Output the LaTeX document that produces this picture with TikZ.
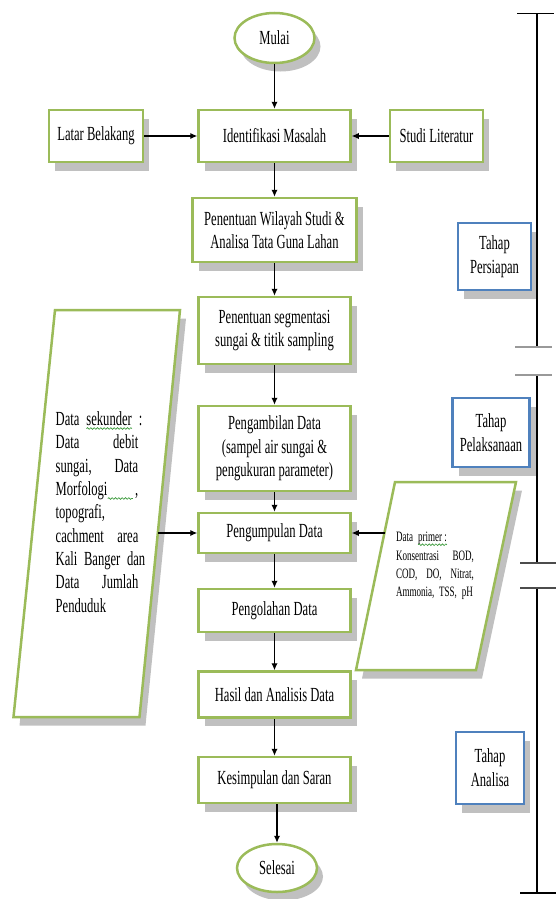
\documentclass[tikz,border=0pt]{standalone}
\usepackage{fontspec}
\setmainfont{Liberation Serif}[FakeStretch=0.63]
\usetikzlibrary{shapes.geometric, shadows, arrows.meta, decorations.pathmorphing}

\definecolor{boxgreen}{HTML}{9BBB59}
\definecolor{boxblue}{HTML}{4F81BD}
\definecolor{shadowgray}{HTML}{C0C0C0}
\definecolor{spellgreen}{HTML}{3A9A3A}

% wavy spell-check underline
\newcommand\squig[1]{\tikz[baseline=(w.base)]{\node[inner sep=0pt, outer sep=0pt] (w) {#1};
  \draw[spellgreen, line width=0.4pt, decorate, decoration={snake, amplitude=0.5pt, segment length=2pt}]
    ([yshift=-1.8pt]w.base west) -- ([yshift=-1.8pt]w.base east);}}

\tikzset{
  boxshadow/.style={drop shadow={shadow xshift=3.6pt, shadow yshift=-5.1pt, fill=shadowgray, opacity=1}},
  flowbox/.style={rectangle, draw=boxgreen, line width=1.5pt, fill=white, boxshadow,
    align=center, inner sep=1pt, font=\fontsize{12}{14}\selectfont},
  endbox/.style={ellipse, draw=boxgreen, line width=1.5pt, fill=white, boxshadow,
    inner sep=1pt, font=\fontsize{12}{14}\selectfont},
  stagebox/.style={rectangle, draw=boxblue, line width=1.5pt, fill=white, boxshadow,
    align=center, inner sep=1pt, font=\fontsize{12}{14.4}\selectfont},
  datashape/.style={draw=boxgreen, line width=1.5pt, fill=white, boxshadow},
  arr/.style={-{Latex[length=4.2pt,width=3.8pt]}, line width=0.7pt, black},
  barline/.style={line width=0.7pt, black},
  tickgray/.style={line width=1.6pt, gray!80},
  tickdark/.style={line width=1.2pt, black!70}
}

\begin{document}
\begin{tikzpicture}[x=0.6pt, y=-0.6pt]
  \useasboundingbox (0,0) rectangle (556,899);

  % Draw the data shapes
  \draw[datashape] (55,310) -- (180,310) -- (139.5,717) -- (13.5,717) -- cycle;
  \draw[datashape] (395,482) -- (516,482) -- (476,670) -- (356,670) -- cycle;
  \coordinate (sekR) at (158,533);
  \coordinate (primL) at (384.5,533);

  \node[align=left, text width=49.6pt, inner sep=0pt, font=\fontsize{12}{14}\selectfont] (sek) at (97,512) {%
    \mbox{Data \squig{sekunder} :}\\
    Data\hfill debit\\
    sungai,\hfill Data\\
    Morfologi\squig{\hspace*{15pt}}\hfill,\\
    topografi,\\
    cachment\hfill area\\
    \mbox{Kali Banger dan}\\
    Data\hfill Jumlah\\
    Penduduk};
  \node[align=left, text width=46.8pt, inner sep=0pt, font=\fontsize{8.6}{11}\selectfont] (prim) at (435,566) {%
    \mbox{Data \squig{primer :}}\\
    Konsentrasi\hfill BOD,\\
    COD,\hfill DO,\hfill Nitrat,\\
    \mbox{Ammonia, TSS, pH}};

  % Draw the nodes
  \node[endbox, minimum width=48pt, minimum height=30pt] (mulai) at (274.5,38) {Mulai};
  \node[flowbox, minimum width=56.4pt, minimum height=31.2pt] (latar) at (96,136) {Latar Belakang};
  \node[flowbox, minimum width=91.2pt, minimum height=31.2pt] (idmas) at (274.5,136) {Identifikasi Masalah};
  \node[flowbox, minimum width=55.8pt, minimum height=31.2pt] (studi) at (436.5,136) {Studi Literatur};
  \node[flowbox, minimum width=98.4pt, minimum height=38.4pt] (wilayah) at (274.5,230) {Penentuan Wilayah Studi \&\\Analisa Tata Guna Lahan};
  \node[flowbox, minimum width=91.2pt, minimum height=40.2pt] (segmen) at (274.5,330.5) {Penentuan segmentasi\\sungai \& titik sampling};
  \node[flowbox, minimum width=91.2pt, minimum height=51pt] (ambil) at (274.5,448.5) {Pengambilan Data\\(sampel air sungai \&\\pengukuran parameter)};
  \node[flowbox, minimum width=91.2pt, minimum height=24pt] (kumpul) at (274.5,533) {Pengumpulan Data};
  \node[flowbox, minimum width=91.2pt, minimum height=25.8pt] (olah) at (274.5,610.5) {Pengolahan Data};
  \node[flowbox, minimum width=91.2pt, minimum height=27.6pt] (hasil) at (274.5,694.5) {Hasil dan Analisis Data};
  \node[flowbox, minimum width=91.2pt, minimum height=27.6pt] (simpul) at (274.5,780) {Kesimpulan dan Saran};
  \node[endbox, minimum width=48pt, minimum height=28.8pt] (selesai) at (277,868) {Selesai};

  \node[stagebox, minimum width=43.8pt, minimum height=40.2pt] (persiapan) at (494.5,256.5) {Tahap\\Persiapan};
  \node[stagebox, minimum width=46.2pt, minimum height=41.4pt] (pelaksanaan) at (491,432.5) {Tahap\\Pelaksanaan};
  \node[stagebox, minimum width=40.8pt, minimum height=43.2pt] (analisa) at (490,768) {Tahap\\Analisa};

  % Draw the arrows
  \draw[arr] (mulai) -- (idmas);
  \draw[arr] (latar) -- (idmas);
  \draw[arr] (studi) -- (idmas);
  \draw[arr] (idmas) -- (wilayah);
  \draw[arr] (wilayah) -- (segmen);
  \draw[arr] (segmen) -- (ambil);
  \draw[arr] (ambil) -- (kumpul);
  \draw[arr] (kumpul) -- (olah);
  \draw[arr] (olah) -- (hasil);
  \draw[arr] (hasil) -- (simpul);
  \draw[arr] (simpul.south -| selesai) -- (selesai);
  \draw[arr] (sekR) -- (kumpul);
  \draw[arr] (primL) -- (kumpul);

  % Draw the stage bar
  \draw[barline] (537,13.5) -- (537,347);
  \draw[barline] (537,375) -- (537,563);
  \draw[barline] (537,588) -- (537,893);
  \draw[barline] (517,13.5) -- (554,13.5);
  \draw[tickgray] (515,347) -- (552,347);
  \draw[tickgray] (515,375) -- (552,375);
  \draw[tickdark] (520,563) -- (556,563);
  \draw[tickdark] (520,588) -- (556,588);
  \draw[barline] (520,893) -- (556,893);
\end{tikzpicture}
\end{document}
